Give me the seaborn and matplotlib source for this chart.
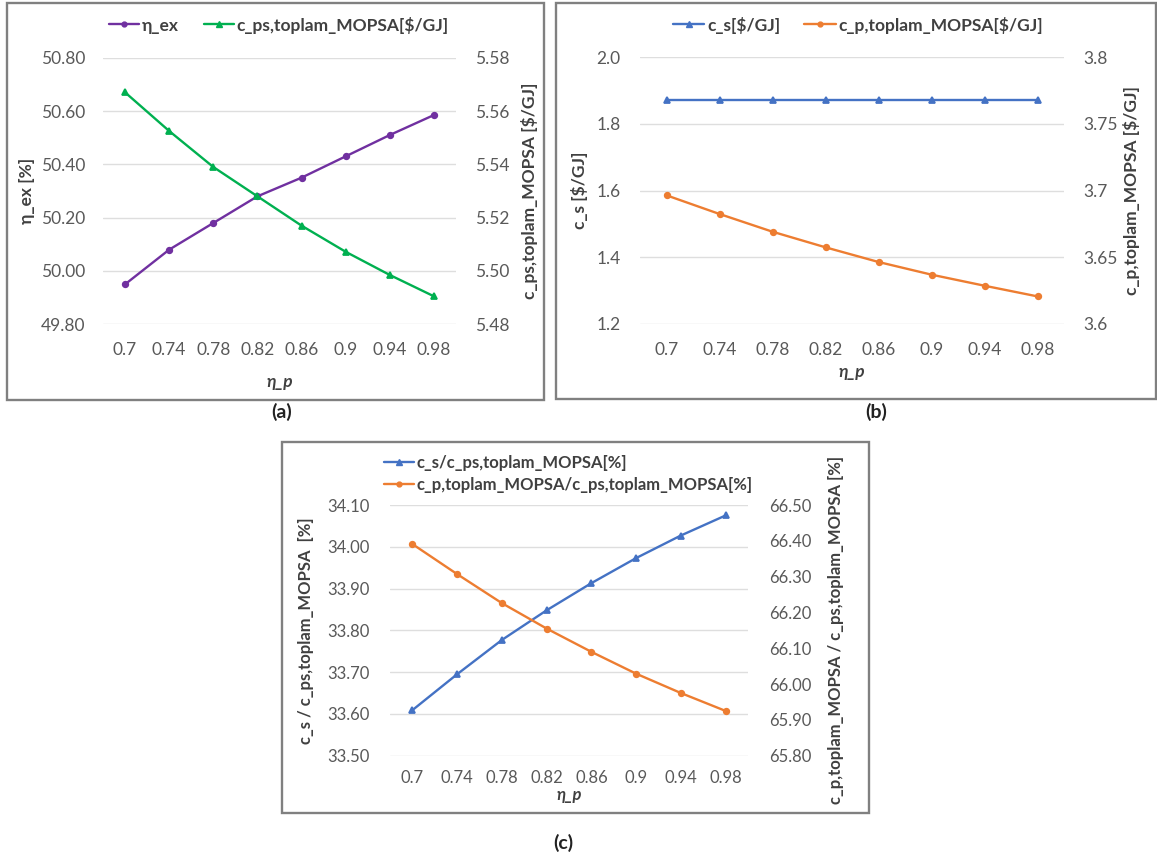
import matplotlib
matplotlib.use("Agg")
import matplotlib.pyplot as plt
import seaborn as sns
import numpy as np
from matplotlib.lines import Line2D
from matplotlib.patches import Rectangle
from matplotlib.ticker import FixedLocator, FixedFormatter

# ---------------- data ----------------
eta_p = ["0.7", "0.74", "0.78", "0.82", "0.86", "0.9", "0.94", "0.98"]

# (a)
eta_ex = [49.95, 50.08, 50.18, 50.28, 50.35, 50.43, 50.51, 50.585]
c_ps_total = [5.567, 5.5525, 5.539, 5.528, 5.517, 5.5072, 5.4985, 5.4905]

# (b)
c_s = [1.871, 1.871, 1.871, 1.871, 1.871, 1.871, 1.871, 1.871]
c_p_total = [3.6965, 3.6825, 3.6692, 3.6575, 3.6465, 3.637, 3.6287, 3.6207]

# (c)
cs_ratio = [33.609, 33.695, 33.777, 33.848, 33.913, 33.973, 34.027, 34.075]
cp_ratio = [66.391, 66.307, 66.226, 66.155, 66.090, 66.029, 65.975, 65.925]

# tick labels
a_left_ticks = [49.80, 50.00, 50.20, 50.40, 50.60, 50.80]
a_right_ticks = [5.48, 5.50, 5.52, 5.54, 5.56, 5.58]
b_left_ticks = [1.2, 1.4, 1.6, 1.8, 2.0]
b_right_ticks = [3.6, 3.65, 3.7, 3.75, 3.8]
b_right_labels = ["3.6", "3.65", "3.7", "3.75", "3.8"]
c_left_ticks = [33.50, 33.60, 33.70, 33.80, 33.90, 34.00, 34.10]
c_right_ticks = [65.80, 65.90, 66.00, 66.10, 66.20, 66.30, 66.40, 66.50]

# ---------------- style ----------------
sns.set_theme(style="white")
plt.rcParams["font.family"] = ["Lato", "DejaVu Sans"]

PURPLE = "#7030A0"
GREEN = "#00B050"
BLUE = "#4472C4"
ORANGE = "#ED7D31"
TICK_C = "#595959"
LAB_C = "#404040"
GRID_C = "#DEDEDE"
LW = 1.7

W, H = 1157, 859
fig = plt.figure(figsize=(W / 100, H / 100), dpi=100)
fig.patch.set_facecolor("white")


def rect(x0, y0, x1, y1):
    return [x0 / W, 1 - y1 / H, (x1 - x0) / W, (y1 - y0) / H]


def frame(x0, y0, x1, y1):
    r = Rectangle((x0 / W, 1 - y1 / H), (x1 - x0) / W, (y1 - y0) / H,
                  transform=fig.transFigure, fill=False, edgecolor="#808080",
                  linewidth=1.7, zorder=0)
    fig.patches.append(r)


def panel(box, left_vals, right_vals, left_style, right_style,
          lticks, lfmt, rticks, rlabels, llab, rlab, lx, rx, xl_y, fs,
          lpad, rpad, xpad):
    ax = fig.add_axes(rect(*box))
    ax2 = ax.twinx()
    sns.pointplot(x=eta_p, y=left_vals, ax=ax, color=left_style[0],
                  markers=left_style[1], errorbar=None,
                  markersize=left_style[2], linewidth=LW)
    sns.pointplot(x=eta_p, y=right_vals, ax=ax2, color=right_style[0],
                  markers=right_style[1], errorbar=None,
                  markersize=right_style[2], linewidth=LW)
    ax.set_xlim(-0.5, len(eta_p) - 0.5)
    ax.set_ylim(lticks[0], lticks[-1])
    ax2.set_ylim(rticks[0], rticks[-1])
    ax.yaxis.set_major_locator(FixedLocator(lticks))
    ax.yaxis.set_major_formatter(FixedFormatter([lfmt.format(v) for v in lticks]))
    ax2.yaxis.set_major_locator(FixedLocator(rticks))
    ax2.yaxis.set_major_formatter(FixedFormatter(rlabels))
    for a in (ax, ax2):
        for s in a.spines.values():
            s.set_visible(False)
        a.set_facecolor("none")
        a.tick_params(length=0, labelsize=fs, colors=TICK_C)
    ax.tick_params(axis="y", pad=lpad)
    ax2.tick_params(axis="y", pad=rpad)
    ax.tick_params(axis="x", pad=xpad)
    ax.yaxis.grid(True, color=GRID_C, linewidth=1.0)
    ax.xaxis.grid(False)
    ax2.grid(False)
    ax.set_axisbelow(True)
    ax.set_xlabel("η_p", fontsize=fs, fontweight="bold", fontstyle="italic",
                  color=LAB_C)
    ax.xaxis.set_label_coords(0.5, xl_y)
    ax.xaxis.label.set_va("center")
    ax.set_ylabel(llab, fontsize=fs, fontweight="bold", color=LAB_C)
    ax.yaxis.label.set_va("center")
    ax.yaxis.set_label_coords(lx, 0.5)
    ax2.set_ylabel(rlab, fontsize=fs, fontweight="bold", color=LAB_C,
                   rotation=90)
    ax2.yaxis.label.set_va("center")
    ax2.yaxis.set_label_coords(rx, 0.5)
    return ax, ax2


def handle(color, marker, ms):
    return Line2D([], [], color=color, marker=marker, markersize=ms,
                  linewidth=LW)


# ---------------- panel (a) ----------------
frame(7, 3, 544, 400)
panel((103, 57.7, 456, 324.3), eta_ex, c_ps_total,
      (PURPLE, "o", 4), (GREEN, "^", 5),
      a_left_ticks, "{:.2f}", a_right_ticks,
      ["{:.2f}".format(v) for v in a_right_ticks],
      "η_ex [%]", r"c_ps,toplam_MOPSA [\$/GJ]",
      (27 - 103) / 353, (530 - 103) / 353, -(382 - 324.3) / 266.6, 12.5,
      13, 14, 13)
fig.legend([handle(PURPLE, "o", 3.5), handle(GREEN, "^", 4.5)],
           ["η_ex", r"c_ps,toplam_MOPSA[\$/GJ]"],
           loc="center", bbox_to_anchor=(279 / W, 1 - 25 / H), ncol=2,
           frameon=False, prop={"weight": "bold", "size": 12.5},
           labelcolor=LAB_C, handlelength=1.7, handletextpad=0.15,
           columnspacing=1.5)
fig.text(282 / W, 1 - 412 / H, "(a)", ha="center", va="center",
         fontsize=14, fontweight="bold", color="#222222")

# ---------------- panel (b) ----------------
frame(556, 3, 1156, 399)
panel((640, 57.3, 1064, 324), c_s, c_p_total,
      (BLUE, "^", 5), (ORANGE, "o", 4),
      b_left_ticks, "{:.1f}", b_right_ticks, b_right_labels,
      r"c_s [\$/GJ]", r"c_p,toplam_MOPSA [\$/GJ]",
      (580 - 640) / 424, (1131 - 640) / 424, -(372 - 324) / 266.7, 12.5,
      14, 14, 13)
fig.legend([handle(BLUE, "^", 4.5), handle(ORANGE, "o", 3.5)],
           [r"c_s[\$/GJ]", r"c_p,toplam_MOPSA[\$/GJ]"],
           loc="center", bbox_to_anchor=(858 / W, 1 - 25 / H), ncol=2,
           frameon=False, prop={"weight": "bold", "size": 12.5},
           labelcolor=LAB_C, handlelength=1.8, handletextpad=0.15,
           columnspacing=1.4)
fig.text(876 / W, 1 - 412 / H, "(b)", ha="center", va="center",
         fontsize=14, fontweight="bold", color="#222222")

# ---------------- panel (c) ----------------
frame(282, 442, 869, 813)
panel((390, 505, 748, 755.7), cs_ratio, cp_ratio,
      (BLUE, "^", 5), (ORANGE, "o", 4),
      c_left_ticks, "{:.2f}", c_right_ticks,
      ["{:.2f}".format(v) for v in c_right_ticks],
      "c_s / c_ps,toplam_MOPSA  [%]",
      "c_p,toplam_MOPSA / c_ps,toplam_MOPSA [%]",
      (306 - 390) / 358, (836 - 390) / 358, -(795 - 755.7) / 250.7, 12,
      15, 15, 10)
fig.legend([handle(BLUE, "^", 4.5), handle(ORANGE, "o", 3.5)],
           ["c_s/c_ps,toplam_MOPSA[%]",
            "c_p,toplam_MOPSA/c_ps,toplam_MOPSA[%]"],
           loc="upper left", bbox_to_anchor=(376 / W, 1 - 447 / H), ncol=1,
           frameon=False, prop={"weight": "bold", "size": 12},
           labelcolor=LAB_C, handlelength=1.8, handletextpad=0.15,
           labelspacing=0.35, borderpad=0.0)
fig.text(563 / W, 1 - 843 / H, "(c)", ha="center", va="center",
         fontsize=14, fontweight="bold", color="#222222")

fig.savefig("out.png", dpi=100, facecolor="white")
